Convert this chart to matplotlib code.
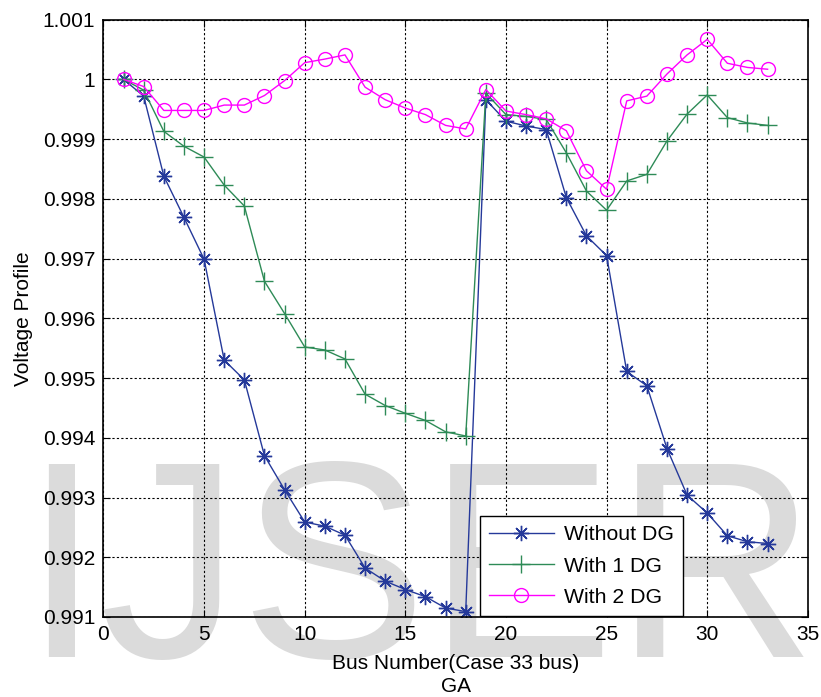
import numpy as np
from matplotlib import pyplot as plt

plt.rcParams['font.family'] = ['Liberation Sans', 'DejaVu Sans']

bus = list(range(1, 34))

# voltage profile without DG
v_no_dg = [1.0000, 0.99972, 0.99838, 0.99769, 0.99699, 0.99530, 0.99497, 0.99370,
           0.99313, 0.99259, 0.99252, 0.99237, 0.99182, 0.99160, 0.99146, 0.99134,
           0.99115, 0.99109, 0.99966, 0.99930, 0.99922, 0.99916, 0.99802, 0.99738,
           0.99705, 0.99511, 0.99487, 0.99382, 0.99304, 0.99274, 0.99236, 0.99226,
           0.99223]

# with one DG
v_1_dg = [1.0000, 0.99982, 0.99913, 0.99888, 0.99870, 0.99823, 0.99788, 0.99662,
          0.99608, 0.99552, 0.99547, 0.99532, 0.99473, 0.99454, 0.99441, 0.99429,
          0.99410, 0.99403, 0.99977, 0.99941, 0.99938, 0.99933, 0.99877, 0.99813,
          0.99781, 0.99830, 0.99841, 0.99897, 0.99942, 0.99974, 0.99936, 0.99927,
          0.99923]

# with two DG
v_2_dg = [1.0000, 0.99988, 0.99948, 0.99948, 0.99948, 0.99957, 0.99957, 0.99973,
          0.99998, 1.00028, 1.00034, 1.00041, 0.99987, 0.99966, 0.99952, 0.99941,
          0.99923, 0.99917, 0.99983, 0.99947, 0.99941, 0.99934, 0.99914, 0.99847,
          0.99816, 0.99964, 0.99972, 1.00009, 1.00041, 1.00067, 1.00027, 1.00020,
          1.00017]

yticks = [0.991, 0.992, 0.993, 0.994, 0.995, 0.996, 0.997, 0.998, 0.999, 1.0, 1.001]
ytick_labels = ['0.991', '0.992', '0.993', '0.994', '0.995', '0.996', '0.997',
                '0.998', '0.999', '1', '1.001']

fig = plt.figure(figsize=(8.21, 6.97), dpi=100)

# watermark behind the axes
fig.text(0.027, 0.0574, 'IJSER', fontsize=202, color='#dbdbdb', ha='left',
         va='baseline', zorder=0)

ax = fig.add_axes([0.126, 0.1148, 0.858, 0.857])
ax.set_zorder(1)
ax.set_facecolor('none')

ax.plot(bus, v_no_dg, color='#25399a', lw=1.0, marker=(8, 2, 0), markersize=11,
        markeredgewidth=1.0, label='Without DG')
ax.plot(bus, v_1_dg, color='#2e8b57', lw=1.0, marker='+', markersize=13,
        markeredgewidth=1.0, label='With 1 DG')
ax.plot(bus, v_2_dg, color='#ff00ff', lw=1.0, marker='o', markersize=10,
        markerfacecolor='none', markeredgewidth=1.0, label='With 2 DG')

ax.set_xlim(0, 35)
ax.set_ylim(0.991, 1.001)
ax.set_xticks([0, 5, 10, 15, 20, 25, 30, 35])
ax.set_yticks(yticks)
ax.set_yticklabels(ytick_labels)
ax.tick_params(direction='in', top=True, right=True, length=5, labelsize=15, pad=6)
for s in ax.spines.values():
    s.set_linewidth(1.2)

ax.grid(True, color='black', linestyle=(0, (2, 2)), linewidth=0.8)

ax.set_xlabel('Bus Number(Case 33 bus)\nGA', fontsize=15, labelpad=7, linespacing=1.25)
ax.set_ylabel('Voltage Profile', fontsize=15, labelpad=7)

leg = ax.legend(loc='lower left', bbox_to_anchor=(0.534, 0.002), borderaxespad=0,
                fontsize=15.3, handlelength=3.1, labelspacing=0.58, fancybox=False,
                edgecolor='black', framealpha=1, borderpad=0.42, handletextpad=0.45)
leg.get_frame().set_linewidth(1.0)

fig.savefig('out.png', dpi=100)
